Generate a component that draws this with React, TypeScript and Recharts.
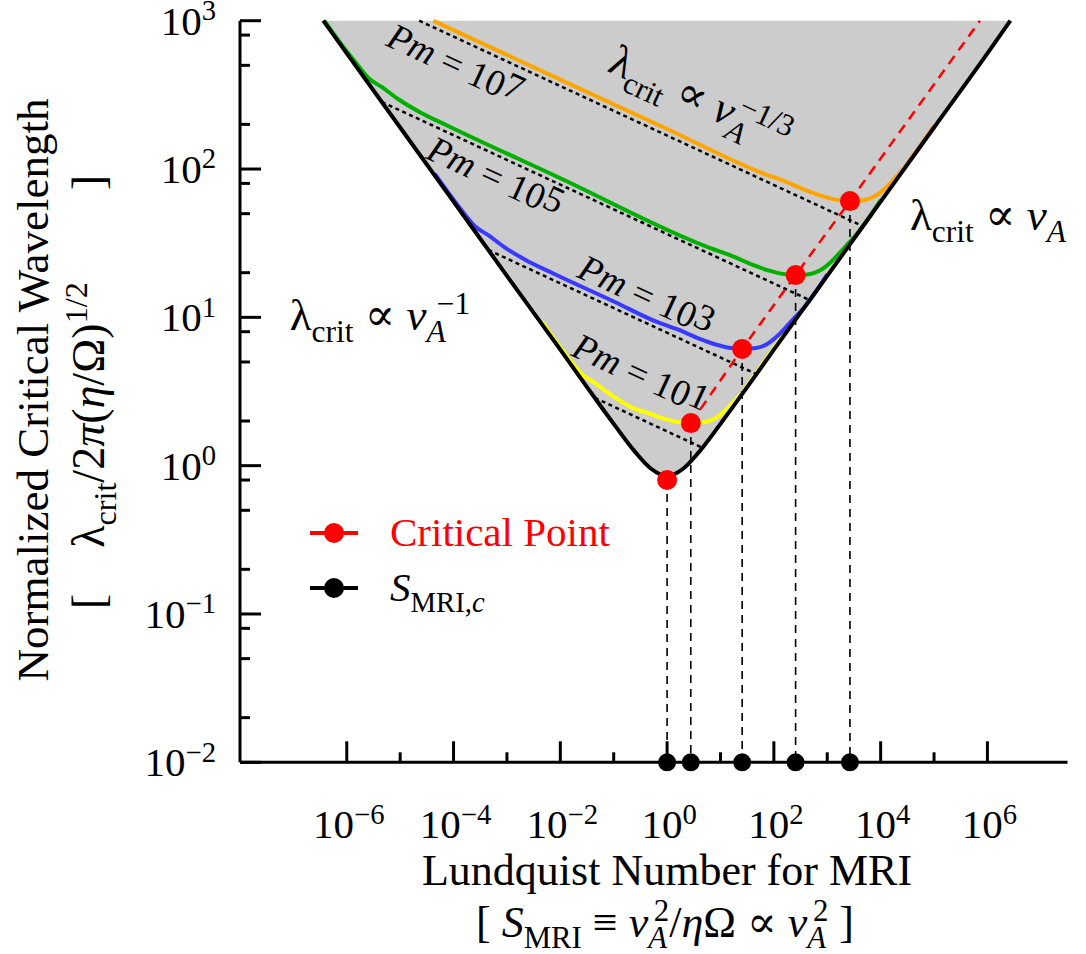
import React from 'react';
import { ComposedChart, Area, Line, XAxis, YAxis, ReferenceDot } from 'recharts';

const FONT = '"Liberation Serif", "Times New Roman", "DejaVu Serif", serif';

// everything in log10: s = log10 S_MRI, l = log10 (normalized lambda_crit)
const xTicks = [-6, -5, -4, -3, -2, -1, 0, 1, 2, 3, 4, 5, 6];
const yDecades = [-2, -1, 0, 1, 2, 3];
const yMinorFactors = [2, 5, 8];

// black envelope (the grey region sits above it)
const boundaryS = [-6.44, -6, -5, -4, -3, -2, -1.5, -1, -0.6, -0.3, 0, 0.3, 0.6, 1, 1.5, 2, 3, 4, 5, 6, 6.43];
const boundaryL = [3.0, 2.78, 2.28, 1.78, 1.28, 0.782, 0.53, 0.282, 0.093, -0.021, -0.07, -0.021, 0.093, 0.282, 0.53, 0.782, 1.28, 1.78, 2.28, 2.78, 3.0];

// Pm = 10^1 (yellow)
const pm1S = [-2.35, -1.85, -1.6, -1.35, -1.05, -0.65, -0.36, -0.06, 0.19, 0.444, 0.69, 0.89, 1.09, 1.29, 1.44, 1.54, 2.5];
const pm1L = [0.972, 0.725, 0.617, 0.557, 0.477, 0.39, 0.355, 0.317, 0.295, 0.287, 0.293, 0.317, 0.372, 0.447, 0.507, 0.56, 1.04];
// Pm = 10^3 (blue)
const pm3S = [-4.35, -3.85, -3.6, -3.35, -3.05, -2.65, -2.15, -1.0, -0.19, 0.21, 0.61, 0.91, 1.16, 1.406, 1.66, 1.86, 2.06, 2.26, 2.41, 2.51, 3.0];
const pm3L = [1.967, 1.722, 1.614, 1.554, 1.474, 1.387, 1.299, 1.107, 0.969, 0.917, 0.855, 0.817, 0.795, 0.787, 0.793, 0.817, 0.872, 0.947, 1.007, 1.043, 1.29];
// Pm = 10^5 (green)
const pm5S = [-6.42, -6.1, -5.84, -5.59, -5.34, -5.04, -4.64, -4.14, -2.0, 0.81, 1.21, 1.61, 1.91, 2.16, 2.407, 2.66, 2.86, 3.06, 3.26, 3.41, 3.51, 4.0];
const pm5L = [3.0, 2.84, 2.722, 2.612, 2.552, 2.472, 2.385, 2.297, 1.938, 1.467, 1.415, 1.353, 1.315, 1.293, 1.285, 1.291, 1.315, 1.37, 1.445, 1.505, 1.543, 1.79];
// Pm = 10^7 (orange)
const pm7S = [-4.38, -2.0, 0.0, 1.83, 2.23, 2.63, 2.93, 3.18, 3.425, 3.68, 3.88, 4.08, 4.28, 4.43, 4.53, 5.0];
const pm7L = [3.0, 2.603, 2.27, 1.966, 1.914, 1.852, 1.814, 1.792, 1.784, 1.79, 1.814, 1.869, 1.944, 2.004, 2.052, 2.29];

// dotted asymptotes lambda ∝ v_A^{-1/3}, yellow, blue, green, orange
const asymStartS = [-1.353, -3.348, -5.343, -4.644];
const asymStartL = [0.457, 1.454, 2.452, 3.0];
const asymEndS = [0.677, 1.674, 2.672, 3.669];
const asymEndL = [0.118, 0.617, 1.116, 1.614];

// critical points (first one is the S_MRI,c minimum)
const critS = [0, 0.444, 1.406, 2.407, 3.425];
const critL = [-0.097, 0.287, 0.787, 1.285, 1.784];
const critLineEnd = { s: 5.86, l: 3.0 };

const pmExp = ['7', '5', '3', '1'];
const pmLabelS = [-3.98, -3.23, -0.4, -0.51];
const pmLabelL = [2.7, 1.94, 1.14, 0.61];

const rows = (xs: number[], ys: number[]) => xs.map((s, i) => ({ s, l: ys[i] }));

const boundary = rows(boundaryS, boundaryL);
const curves = [
  { data: rows(pm1S, pm1L), color: '#ffff00' },
  { data: rows(pm3S, pm3L), color: '#3a3aff' },
  { data: rows(pm5S, pm5L), color: '#00b000' },
  { data: rows(pm7S, pm7L), color: '#ffa500' },
];
const asymptotes = asymStartS.map((s, i) => [
  { s, l: asymStartL[i] },
  { s: asymEndS[i], l: asymEndL[i] },
]);
const critLine = [...rows(critS.slice(1), critL.slice(1)), critLineEnd];
const critDots = rows(critS, critL);
const verticals = critS.map((s, i) => [
  { s, l: critL[i] },
  { s, l: -2 },
]);
const baseDots = critS.map((s) => ({ s, l: -2 }));

const yTicks = [
  ...yDecades,
  ...yDecades.slice(0, -1).flatMap((d) => yMinorFactors.map((f) => d + Math.log10(f))),
];

type Seg = [string, string?, number?];

function MathText({ x, y, segs, fs, anchor = 'start', fill = '#000', transform }: {
  x: number; y: number; segs: Seg[]; fs: number; anchor?: string; fill?: string; transform?: string;
}) {
  let off = 0;
  return (
    <text x={x} y={y} textAnchor={anchor as any} fill={fill} transform={transform}
      style={{ fontFamily: FONT, fontSize: fs }}>
      {segs.map(([t, k = 'r', dx = 0], i) => {
        const sub = k.includes('b');
        const sup = k.includes('p');
        const up = k.includes('u');
        const target = sub ? fs * 0.26 : sup ? -fs * 0.36 : up ? -fs * 0.12 : 0;
        const dy = target - off;
        off = target;
        return (
          <tspan key={i} dx={dx * fs} dy={dy}
            style={{ fontSize: sub || sup ? fs * 0.7 : fs, fontStyle: k.includes('i') ? 'italic' : 'normal' }}>{t}</tspan>
        );
      })}
    </text>
  );
}

const expo = (v: number) => (v < 0 ? '\u2212' + Math.abs(v) : String(v));

const YTick = (props: any) => {
  const { x, y, payload } = props;
  const v = payload.value;
  const major = Math.abs(v - Math.round(v)) < 1e-6;
  return (
    <g>
      <line x1={x} x2={x + (major ? 21 : 10)} y1={y} y2={y} stroke="#000" strokeWidth={3} />
      {major && <MathText x={x - 24} y={y + 14} fs={41} anchor="end" segs={[['10'], [expo(Math.round(v)), 'p']]} />}
    </g>
  );
};

const XTick = (props: any) => {
  const { x, y, payload } = props;
  const v = payload.value;
  const major = v % 2 === 0;
  return (
    <g>
      <line x1={x} x2={x} y1={y} y2={y - (major ? 21 : 10)} stroke="#000" strokeWidth={3} />
      {major && <MathText x={x + 2} y={y + 76} fs={41} anchor="middle" segs={[['10'], [expo(v), 'p']]} />}
    </g>
  );
};

const XLabel = () => (
  <g>
    <MathText x={667} y={885} fs={44} anchor="middle" segs={[['Lundquist Number for MRI']]} />
    <MathText x={665} y={937} fs={44} anchor="middle"
      segs={[['[ '], ['S', 'i'], ['MRI', 'b'], [' \u2261 '], ['v', 'i'], ['A', 'bi'], ['2', 'p', -0.3], ['/'], ['\u03b7', 'i'], ['\u03a9 \u221d '], ['v', 'i'], ['A', 'bi'], ['2', 'p', -0.3], [' ]']]} />
  </g>
);

const YLabel = () => (
  <g>
    <MathText x={48} y={390} fs={45} anchor="middle" transform="rotate(-90 48 390)" segs={[['Normalized Critical Wavelength']]} />
    <MathText x={104} y={392} fs={46} anchor="middle" transform="rotate(-90 104 392)"
      segs={[['[\u2003\u03bb'], ['crit', 'b'], ['/2'], ['\u03c0', 'i'], ['('], ['\u03b7', 'i'], ['/\u03a9)'], ['1/2', 'p'], ['\u2003\u2003]']]} />
  </g>
);

const ANGLE = 24.8;
const rotText = (segs: Seg[], fs: number) => (p: any) => (
  <MathText x={p.cx} y={p.cy + fs * 0.3} fs={fs} anchor="middle" segs={segs} transform={`rotate(${ANGLE} ${p.cx} ${p.cy})`} />
);
const plainText = (segs: Seg[], fs: number) => (p: any) => (
  <MathText x={p.cx} y={p.cy} fs={fs} segs={segs} />
);

export default function App() {
  return (
    <div style={{ position: 'absolute', left: 0, top: 0, width: 1086, height: 954, background: '#fff', fontFamily: FONT }}>
      <ComposedChart width={1086} height={954} data={boundary}
        margin={{ top: 20.7, right: 18.5, bottom: 0, left: 0 }}>
        <XAxis dataKey="s" type="number" domain={[-8, 7.5]} ticks={xTicks} interval={0}
          height={191.7} tickSize={0} tickMargin={0} tickLine={false}
          axisLine={{ stroke: '#000', strokeWidth: 3 }} tick={<XTick />} label={<XLabel />} />
        <YAxis type="number" domain={[-2, 3]} ticks={yTicks} interval={0}
          width={240} tickSize={0} tickMargin={0} tickLine={false}
          axisLine={{ stroke: '#000', strokeWidth: 3 }} tick={<YTick />} label={<YLabel />} />

        <Area dataKey={(d: any) => [d.l, 3]} type="monotone" fill="#cccccc" fillOpacity={1}
          stroke="none" isAnimationActive={false} activeDot={false} />

        {curves.map((c, i) => (
          <Line key={'c' + i} data={c.data} dataKey="l" type="monotone" stroke={c.color}
            strokeWidth={4} dot={false} activeDot={false} isAnimationActive={false} />
        ))}
        {asymptotes.map((d, i) => (
          <Line key={'a' + i} data={d} dataKey="l" type="linear" stroke="#000" strokeWidth={2.5}
            strokeDasharray="4 3.5" dot={false} activeDot={false} isAnimationActive={false} />
        ))}
        <Line dataKey="l" type="monotone" stroke="#000" strokeWidth={4} dot={false}
          activeDot={false} isAnimationActive={false} />
        <Line data={critLine} dataKey="l" type="linear" stroke="#ff0000" strokeWidth={2.5}
          strokeDasharray="10 7" dot={false} activeDot={false} isAnimationActive={false} />
        {verticals.map((d, i) => (
          <Line key={'v' + i} data={d} dataKey="l" type="linear" stroke="#000" strokeWidth={1.6}
            strokeDasharray="8 6" dot={false} activeDot={false} isAnimationActive={false} />
        ))}
        <Line data={critDots} dataKey="l" stroke="none" strokeWidth={0}
          dot={{ r: 10, fill: '#ff0000', stroke: 'none' }} activeDot={false} isAnimationActive={false} />
        <Line data={baseDots} dataKey="l" stroke="none" strokeWidth={0}
          dot={{ r: 9, fill: '#000', stroke: 'none' }} activeDot={false} isAnimationActive={false} />

        {pmExp.map((e, i) => (
          <ReferenceDot key={'p' + i} x={pmLabelS[i]} y={pmLabelL[i]} r={1} ifOverflow="visible"
            shape={rotText([['Pm', 'i'], [' = 10'], [e, 'u']], 37)} />
        ))}
        <ReferenceDot x={0.61} y={2.47} r={1} ifOverflow="visible"
          shape={rotText([['\u03bb'], ['crit', 'b'], [' \u221d '], ['v', 'i'], ['A', 'bi'], ['\u22121/3', 'p', -0.35]], 44)} />
        <ReferenceDot x={4.55} y={1.589} r={1} ifOverflow="visible"
          shape={plainText([['\u03bb'], ['crit', 'b'], [' \u221d '], ['v', 'i'], ['A', 'bi']], 45)} />
        <ReferenceDot x={-7.07} y={0.914} r={1} ifOverflow="visible"
          shape={plainText([['\u03bb'], ['crit', 'b'], [' \u221d '], ['v', 'i'], ['A', 'bi'], ['\u22121', 'p', -0.2]], 45)} />
      </ComposedChart>

      <svg width={1086} height={954} style={{ position: 'absolute', left: 0, top: 0, pointerEvents: 'none' }}>
        <line x1={310} x2={358} y1={533} y2={533} stroke="#ff0000" strokeWidth={4} />
        <circle cx={334} cy={533} r={10} fill="#ff0000" />
        <MathText x={390} y={546} fs={41} fill="#ff0000" segs={[['Critical Point']]} />
        <line x1={310} x2={358} y1={588} y2={588} stroke="#000" strokeWidth={4} />
        <circle cx={334} cy={588} r={10} fill="#000" />
        <MathText x={390} y={601} fs={41} segs={[['S', 'i'], ['MRI,', 'b'], ['c', 'bi']]} />
      </svg>
    </div>
  );
}
